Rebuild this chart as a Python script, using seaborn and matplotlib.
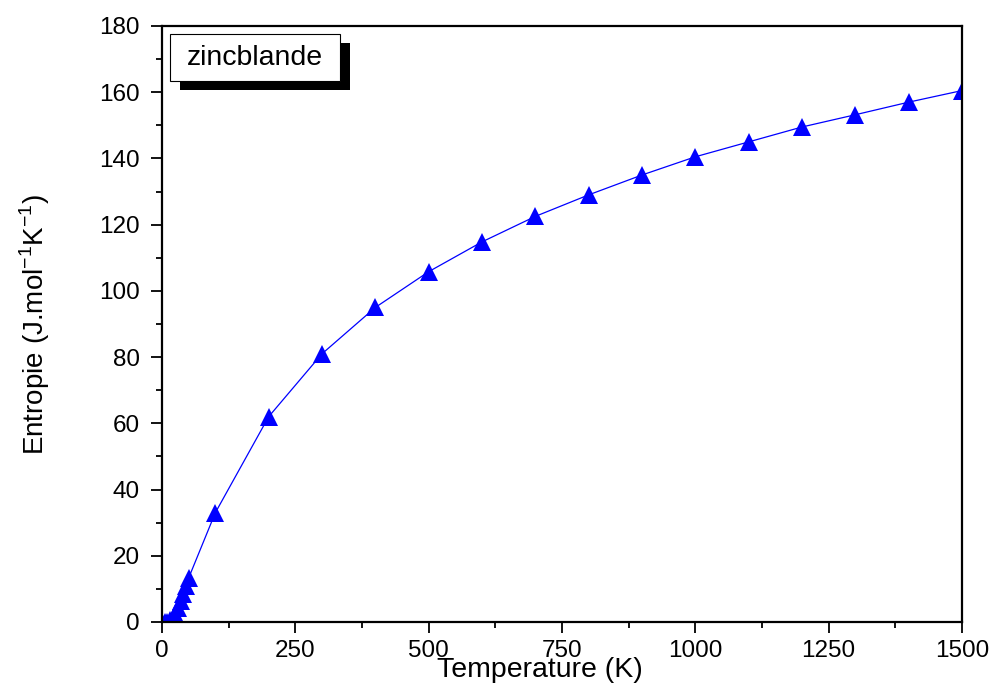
import matplotlib
matplotlib.use("Agg")
import matplotlib.pyplot as plt
import seaborn as sns
import pandas as pd
from matplotlib.patches import Rectangle
from matplotlib.ticker import MultipleLocator

temperature = [0, 5, 10, 15, 20, 25, 30, 35, 40, 45, 50,
               100, 200, 300, 400, 500, 600, 700, 800, 900,
               1000, 1100, 1200, 1300, 1400, 1500]
entropy = [0.0, 0.02, 0.15, 0.5, 1.2, 2.4, 4.2, 6.3, 8.5, 10.9, 13.3,
           33.0, 62.0, 81.0, 95.0, 105.8, 114.8, 122.5, 129.0, 135.0,
           140.5, 145.0, 149.5, 153.2, 157.0, 160.5]
series_label = "zincblande"
x_label = "Temperature (K)"
y_label = "Entropie (J.mol$^{-1}$K$^{-1}$)"

df = pd.DataFrame({"T": temperature, "S": entropy})

sns.set_style("ticks")
plt.rcParams["font.family"] = ["Liberation Sans", "DejaVu Sans"]
plt.rcParams["mathtext.fontset"] = "custom"
plt.rcParams["mathtext.rm"] = "Liberation Sans"
plt.rcParams["text.color"] = "black"
plt.rcParams["axes.labelcolor"] = "black"
plt.rcParams["xtick.color"] = "black"
plt.rcParams["ytick.color"] = "black"

W, H = 991, 689
fig = plt.figure(figsize=(W / 100, H / 100), dpi=100)
ax = fig.add_axes([162 / W, 1 - 622 / H, 800 / W, 596 / H])

sns.lineplot(data=df, x="T", y="S", ax=ax, color="#0000FF", linewidth=0.9,
             marker="^", markersize=13, markeredgewidth=0,
             markerfacecolor="#0000FF")

ax.set_xlim(0, 1500)
ax.set_ylim(0, 180)
ax.xaxis.set_major_locator(MultipleLocator(250))
ax.xaxis.set_minor_locator(MultipleLocator(125))
ax.yaxis.set_major_locator(MultipleLocator(20))
ax.yaxis.set_minor_locator(MultipleLocator(10))
ax.tick_params(which="major", direction="out", length=8, width=1.3,
               labelsize=17.5, colors="black")
ax.tick_params(axis="y", which="major", pad=8)
ax.tick_params(axis="x", which="major", pad=5)
ax.tick_params(which="minor", direction="out", length=4, width=1.3)
for s in ax.spines.values():
    s.set_visible(True)
    s.set_linewidth(1.6)
    s.set_color("black")

ax.set_xlabel(x_label, fontsize=20.5, color="black")
ax.set_ylabel(y_label, fontsize=20, color="black")
ax.xaxis.set_label_coords(0.4725, -0.058)
ax.yaxis.set_label_coords(-0.137, 0.5)

def px_rect(x0, y0, x1, y1, **kw):
    return Rectangle((x0 / W, 1 - y1 / H), (x1 - x0) / W, (y1 - y0) / H,
                     transform=fig.transFigure, **kw)

fig.add_artist(px_rect(180, 43, 350, 90, facecolor="black", edgecolor="none", zorder=5))
fig.add_artist(px_rect(170, 34, 340, 81, facecolor="white", edgecolor="black",
                       linewidth=0.8, zorder=6))
fig.text(255 / W, 1 - 58 / H, series_label, fontsize=20.5, ha="center",
         va="center", zorder=7, color="black")

fig.savefig("out.png", dpi=100)
